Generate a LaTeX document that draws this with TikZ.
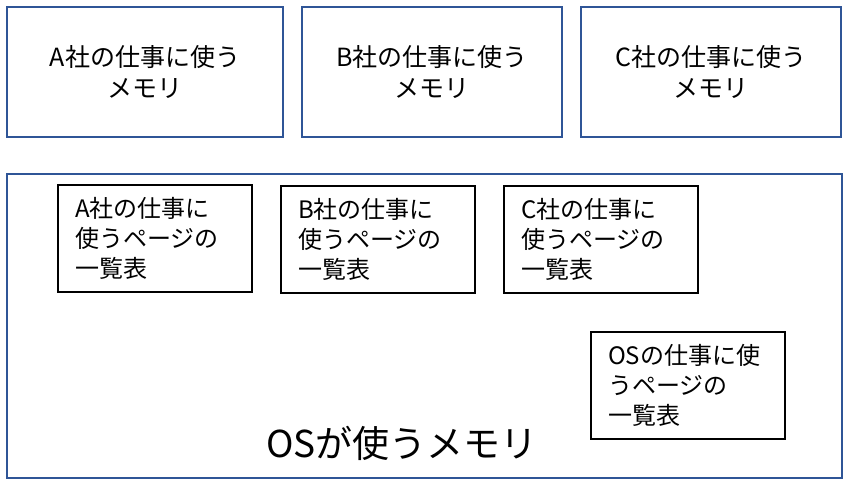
\documentclass[tikz,border=0pt]{standalone}
\usepackage{fontspec}
\setmainfont{Noto Sans CJK JP}
\usepackage{xcolor}
\usepackage{tikz}
\definecolor{frame}{HTML}{2F5597}
\tikzset{
  membox/.style={draw=frame, line width=2pt, minimum width=#1, minimum height=130pt,
    inner sep=0pt, align=center, font=\fontsize{25}{31}\selectfont},
  pagebox/.style={draw=black, line width=2pt, minimum width=194pt, minimum height=107pt,
    inner sep=0pt, text width=160pt, align=left, font=\fontsize{24}{30}\selectfont}
}

\begin{document}
\begin{tikzpicture}[x=1pt, y=-1pt]
    \useasboundingbox (0,0) rectangle (850,500);
    % memory of each company
    \node[membox=276pt] (memA) at (145,72) {A社の仕事に使う\\メモリ};
    \node[membox=260pt] (memB) at (432,72) {B社の仕事に使う\\メモリ};
    \node[membox=260pt] (memC) at (711,72) {C社の仕事に使う\\メモリ};
    % memory of the OS
    \node[draw=frame, line width=2pt, minimum width=835pt, minimum height=304pt,
        inner sep=0pt] (osmem) at (424.5,326) {};
    \node[font=\fontsize{37}{42}\selectfont] (oslabel) at (402,443) {OSが使うメモリ};
    \node[pagebox] (tabA) at (155,238) {A社の仕事に\\使うページの\\一覧表};
    \node[pagebox] (tabB) at (378,239.5) {B社の仕事に\\使うページの\\一覧表};
    \node[pagebox] (tabC) at (601,239.5) {C社の仕事に\\使うページの\\一覧表};
    \node[pagebox] (tabOS) at (688,385.5) {OSの仕事に使\\うページの\\一覧表};
\end{tikzpicture}
\end{document}
